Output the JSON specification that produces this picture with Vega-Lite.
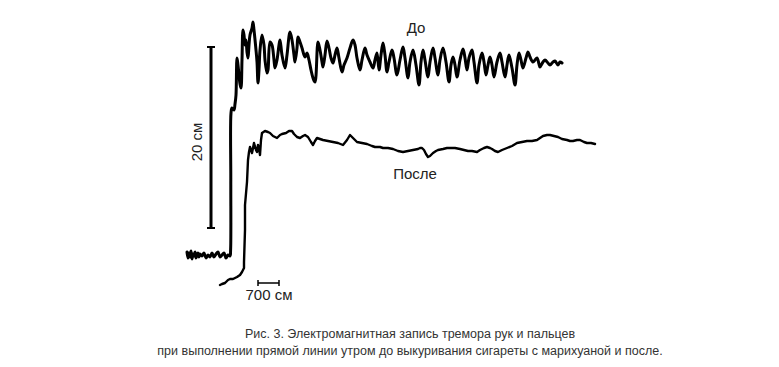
{
  "$schema": "https://vega.github.io/schema/vega-lite/v6.json",
  "width": 779,
  "height": 367,
  "autosize": {"type": "none"},
  "padding": 0,
  "background": "white",
  "config": {"view": {"stroke": null}},
  "datasets": {
    "before": [
      {"t":187,"v":252},{"t":188,"v":258},{"t":189,"v":253},{"t":190,"v":257},{"t":191,"v":251},{"t":192,"v":259},{"t":193,"v":254},{"t":194,"v":256},{"t":195,"v":252},{"t":196,"v":258},{"t":197,"v":255},{"t":198,"v":253},{"t":199,"v":257},{"t":200,"v":254},{"t":202,"v":256},{"t":204,"v":253},{"t":206,"v":258},{"t":208,"v":255},{"t":210,"v":257},{"t":212,"v":253},{"t":214,"v":257},{"t":216,"v":254},{"t":218,"v":252},{"t":220,"v":257},{"t":222,"v":255},{"t":224,"v":253},{"t":226,"v":258},{"t":228,"v":255},{"t":230,"v":256},{"t":230.6,"v":250},{"t":230.8,"v":180},{"t":231,"v":113},{"t":232,"v":108},{"t":234,"v":110},{"t":235,"v":104},{"t":236,"v":95},{"t":237,"v":58},{"t":238,"v":65},{"t":239,"v":75},{"t":240,"v":84},{"t":241,"v":88},{"t":242,"v":60},{"t":243,"v":30},{"t":244,"v":35},{"t":245,"v":45},{"t":246,"v":40},{"t":247,"v":52},{"t":248,"v":58},{"t":249,"v":45},{"t":250,"v":35},{"t":252,"v":28},{"t":253,"v":22},{"t":254,"v":30},{"t":256,"v":50},{"t":257,"v":62},{"t":258,"v":83},{"t":259,"v":70},{"t":260,"v":50},{"t":262,"v":35},{"t":264,"v":45},{"t":265,"v":60},{"t":267,"v":73},{"t":268,"v":70},{"t":270,"v":42},{"t":272,"v":45},{"t":274,"v":60},{"t":275,"v":68},{"t":277,"v":60},{"t":279,"v":45},{"t":280,"v":40},{"t":282,"v":55},{"t":285,"v":68},{"t":287,"v":55},{"t":290,"v":32},{"t":292,"v":40},{"t":294,"v":55},{"t":295,"v":62},{"t":297,"v":48},{"t":298,"v":37},{"t":300,"v":42},{"t":302,"v":48},{"t":305,"v":57},{"t":307,"v":53},{"t":309,"v":60},{"t":311,"v":70},{"t":313,"v":78},{"t":315,"v":82},{"t":318,"v":42},{"t":320,"v":50},{"t":322,"v":62},{"t":323,"v":67},{"t":325,"v":55},{"t":327,"v":41},{"t":329,"v":48},{"t":331,"v":58},{"t":333,"v":63},{"t":335,"v":55},{"t":337,"v":48},{"t":339,"v":58},{"t":342,"v":72},{"t":344,"v":65},{"t":347,"v":58},{"t":350,"v":48},{"t":353,"v":40},{"t":355,"v":45},{"t":357,"v":58},{"t":360,"v":70},{"t":362,"v":60},{"t":365,"v":48},{"t":367,"v":55},{"t":370,"v":62},{"t":373,"v":68},{"t":375,"v":60},{"t":377,"v":53},{"t":379,"v":70},{"t":381,"v":55},{"t":383,"v":43},{"t":385,"v":55},{"t":387,"v":72},{"t":389,"v":62},{"t":392,"v":50},{"t":394,"v":58},{"t":397,"v":75},{"t":400,"v":60},{"t":403,"v":47},{"t":405,"v":58},{"t":408,"v":78},{"t":410,"v":62},{"t":413,"v":50},{"t":416,"v":65},{"t":419,"v":85},{"t":421,"v":62},{"t":423,"v":50},{"t":425,"v":60},{"t":428,"v":77},{"t":430,"v":62},{"t":433,"v":48},{"t":435,"v":58},{"t":438,"v":75},{"t":440,"v":60},{"t":443,"v":48},{"t":446,"v":62},{"t":449,"v":82},{"t":451,"v":65},{"t":453,"v":57},{"t":455,"v":65},{"t":457,"v":77},{"t":460,"v":60},{"t":463,"v":49},{"t":465,"v":58},{"t":467,"v":70},{"t":469,"v":58},{"t":472,"v":50},{"t":474,"v":62},{"t":477,"v":83},{"t":479,"v":65},{"t":482,"v":53},{"t":484,"v":62},{"t":486,"v":75},{"t":488,"v":65},{"t":490,"v":57},{"t":492,"v":65},{"t":494,"v":77},{"t":497,"v":62},{"t":500,"v":53},{"t":502,"v":62},{"t":505,"v":77},{"t":507,"v":65},{"t":509,"v":55},{"t":512,"v":68},{"t":515,"v":85},{"t":517,"v":65},{"t":519,"v":53},{"t":521,"v":60},{"t":523,"v":68},{"t":526,"v":58},{"t":528,"v":52},{"t":530,"v":57},{"t":533,"v":62},{"t":535,"v":60},{"t":537,"v":58},{"t":539,"v":64},{"t":540,"v":67},{"t":543,"v":62},{"t":545,"v":60},{"t":548,"v":63},{"t":550,"v":65},{"t":553,"v":62},{"t":555,"v":61},{"t":558,"v":65},{"t":560,"v":62},{"t":562,"v":63}
    ],
    "after": [
      {"t":220,"v":285},{"t":222,"v":284},{"t":225,"v":283},{"t":228,"v":280},{"t":230,"v":279},{"t":233,"v":279},{"t":237,"v":277},{"t":240,"v":275},{"t":242,"v":272},{"t":244,"v":268},{"t":244,"v":262},{"t":245,"v":230},{"t":245,"v":205},{"t":247,"v":182},{"t":248,"v":160},{"t":249,"v":152},{"t":250,"v":147},{"t":252,"v":153},{"t":254,"v":143},{"t":256,"v":150},{"t":257,"v":152},{"t":258,"v":145},{"t":259,"v":148},{"t":260,"v":155},{"t":261,"v":140},{"t":262,"v":133},{"t":265,"v":131},{"t":268,"v":132},{"t":270,"v":133},{"t":273,"v":136},{"t":277,"v":138},{"t":280,"v":135},{"t":282,"v":134},{"t":286,"v":133},{"t":289,"v":131},{"t":292,"v":131},{"t":294,"v":134},{"t":297,"v":137},{"t":300,"v":138},{"t":303,"v":136},{"t":305,"v":135},{"t":308,"v":137},{"t":311,"v":142},{"t":313,"v":145},{"t":315,"v":141},{"t":317,"v":138},{"t":320,"v":139},{"t":323,"v":140},{"t":328,"v":141},{"t":333,"v":142},{"t":338,"v":143},{"t":343,"v":145},{"t":347,"v":140},{"t":350,"v":135},{"t":353,"v":138},{"t":357,"v":142},{"t":362,"v":143},{"t":367,"v":144},{"t":372,"v":146},{"t":375,"v":147},{"t":380,"v":147},{"t":383,"v":148},{"t":388,"v":148},{"t":393,"v":149},{"t":398,"v":151},{"t":403,"v":152},{"t":408,"v":151},{"t":413,"v":150},{"t":418,"v":149},{"t":420,"v":148},{"t":422,"v":148},{"t":424,"v":150},{"t":426,"v":154},{"t":428,"v":157},{"t":430,"v":156},{"t":433,"v":153},{"t":436,"v":151},{"t":438,"v":150},{"t":443,"v":149},{"t":447,"v":148},{"t":450,"v":148},{"t":455,"v":148},{"t":460,"v":149},{"t":464,"v":150},{"t":468,"v":151},{"t":472,"v":151},{"t":477,"v":152},{"t":480,"v":150},{"t":484,"v":148},{"t":487,"v":147},{"t":490,"v":148},{"t":492,"v":149},{"t":495,"v":151},{"t":498,"v":152},{"t":502,"v":150},{"t":507,"v":148},{"t":512,"v":146},{"t":517,"v":143},{"t":522,"v":142},{"t":527,"v":141},{"t":532,"v":141},{"t":537,"v":140},{"t":540,"v":138},{"t":543,"v":136},{"t":547,"v":135},{"t":550,"v":135},{"t":554,"v":136},{"t":558,"v":137},{"t":562,"v":139},{"t":567,"v":140},{"t":570,"v":141},{"t":573,"v":141},{"t":577,"v":140},{"t":580,"v":140},{"t":584,"v":142},{"t":587,"v":143},{"t":591,"v":143},{"t":595,"v":144}
    ],
    "bigbar": [
      {"t":211,"v":47,"t2":211,"v2":228}
    ],
    "bigcaps": [
      {"t":207,"v":47,"t2":215,"v2":47},
      {"t":207,"v":228,"t2":215,"v2":228}
    ],
    "smallbar": [
      {"t":258,"v":283,"t2":279,"v2":283},
      {"t":258,"v":280,"t2":258,"v2":286},
      {"t":279,"v":280,"t2":279,"v2":286}
    ],
    "labels": [
      {"t":416,"v":28,"text":"До"},
      {"t":415,"v":174,"text":"После"},
      {"t":269,"v":295,"text":"700 см"}
    ],
    "vlabel": [
      {"t":197,"v":142,"text":"20 см"}
    ],
    "caption": [
      {"t":410,"v":338,"text":"Рис. 3. Электромагнитная запись тремора рук и пальцев"},
      {"t":410,"v":355,"text":"при выполнении прямой линии утром до выкуривания сигареты с марихуаной и после."}
    ]
  },
  "encoding": {
    "x": {"field": "t", "type": "quantitative", "scale": {"domain": [0, 779], "nice": false, "zero": false}, "axis": null},
    "y": {"field": "v", "type": "quantitative", "scale": {"domain": [0, 367], "reverse": true, "nice": false, "zero": false}, "axis": null}
  },
  "layer": [
    {
      "data": {"name": "before"},
      "mark": {"type": "line", "color": "#000000", "strokeWidth": 3, "strokeJoin": "round", "strokeCap": "round", "interpolate": "catmull-rom"},
      "encoding": {"order": {"value": null}}
    },
    {
      "data": {"name": "after"},
      "mark": {"type": "line", "color": "#000000", "strokeWidth": 2.4, "strokeJoin": "round", "strokeCap": "round"},
      "encoding": {"order": {"value": null}}
    },
    {
      "data": {"name": "bigbar"},
      "mark": {"type": "rule", "color": "#000000", "strokeWidth": 3},
      "encoding": {"x2": {"field": "t2"}, "y2": {"field": "v2"}}
    },
    {
      "data": {"name": "bigcaps"},
      "mark": {"type": "rule", "color": "#000000", "strokeWidth": 2},
      "encoding": {"x2": {"field": "t2"}, "y2": {"field": "v2"}}
    },
    {
      "data": {"name": "smallbar"},
      "mark": {"type": "rule", "color": "#000000", "strokeWidth": 1.5},
      "encoding": {"x2": {"field": "t2"}, "y2": {"field": "v2"}}
    },
    {
      "data": {"name": "labels"},
      "mark": {"type": "text", "font": "Liberation Sans", "fontSize": 15, "color": "#222222", "align": "center", "baseline": "middle"},
      "encoding": {"text": {"field": "text"}}
    },
    {
      "data": {"name": "vlabel"},
      "mark": {"type": "text", "font": "Liberation Sans", "fontSize": 15, "color": "#222222", "align": "center", "baseline": "middle", "angle": 270},
      "encoding": {"text": {"field": "text"}}
    },
    {
      "data": {"name": "caption"},
      "mark": {"type": "text", "font": "Liberation Sans", "fontSize": 12.5, "color": "#333333", "align": "center", "baseline": "alphabetic"},
      "encoding": {"text": {"field": "text"}}
    }
  ]
}
